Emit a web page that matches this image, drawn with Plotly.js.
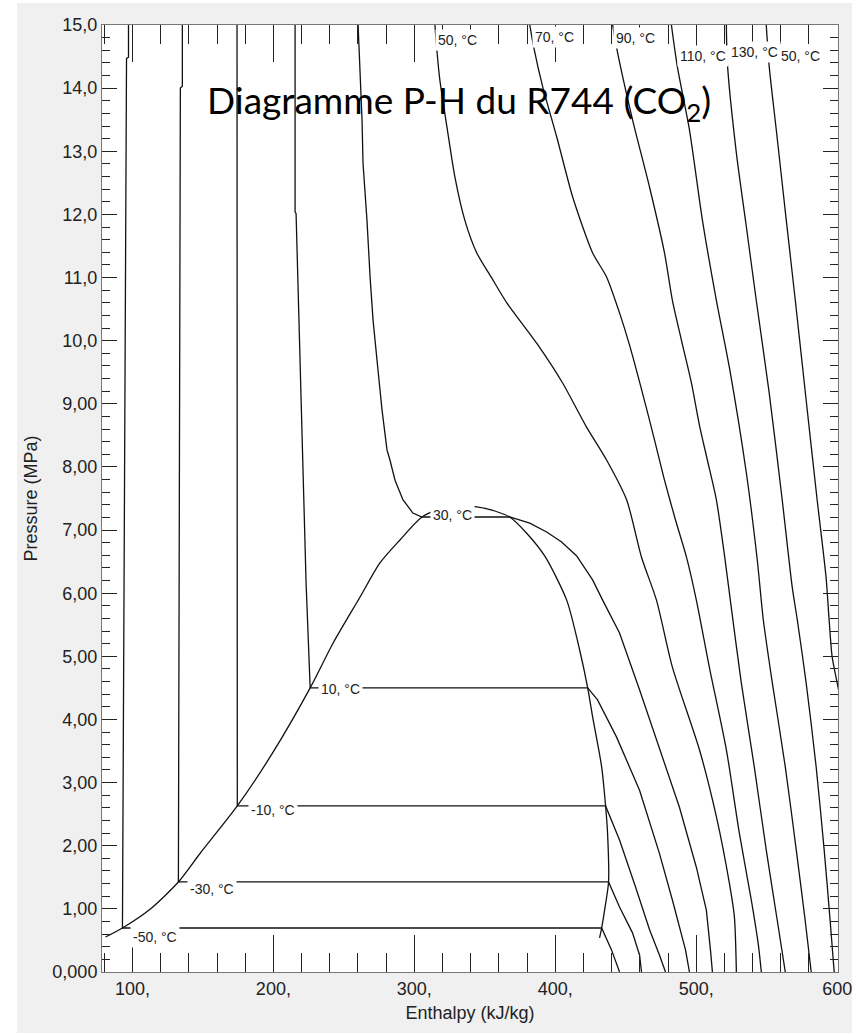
<!DOCTYPE html>
<html><head><meta charset="utf-8">
<script src="https://cdn.plot.ly/plotly-3.0.1.min.js"></script>
<style>html,body{margin:0;padding:0;background:#fff}#chart{width:858px;height:1035px}</style>
</head><body><div id="chart"></div>
<script>
// Saturation dome (liquid line then vapour line), enthalpy kJ/kg, pressure MPa
const dome_h = [80.9, 92.9, 112.7, 132.6, 148.2, 174.4, 200.0, 226.1, 242.4, 261.5, 275.6, 289.8, 305.4, 318.1, 331.6, 344.3, 357.1, 367.7, 379.7, 392.5, 408.1, 417.3, 423.0, 426.5, 432.9, 435.7, 437.1, 437.8, 435.0, 432.9, 431.4];
const dome_p = [0.554, 0.697, 0.998, 1.426, 1.885, 2.63, 3.49, 4.50, 5.211, 5.940, 6.479, 6.843, 7.207, 7.33, 7.382, 7.366, 7.302, 7.207, 6.95, 6.59, 5.89, 5.10, 4.50, 4.04, 3.25, 2.63, 2.20, 1.426, 0.98, 0.697, 0.539];

// Isotherms
const t_m50_h = [97.2, 97.2, 95.8, 92.9, 432.9, 439.9, 445.6];
const t_m50_p = [15, 14.49, 14.47, 0.697, 0.697, 0.35, 0];
const t_m30_h = [135.4, 135.4, 134.0, 132.6, 437.8, 445.6, 454.8, 459.8, 461.2];
const t_m30_p = [15, 14.03, 14.0, 1.426, 1.426, 1.03, 0.62, 0.27, 0];
const t_m10_h = [174.2, 174.4, 435.7, 445.6, 456.9, 466.9, 473.9, 478.2];
const t_m10_p = [15, 2.63, 2.63, 2.09, 1.35, 0.67, 0.27, 0];
const t_10_h = [215.4, 215.4, 216.1, 220.4, 223.2, 226.1, 423.0, 430.0, 443.5, 459.8, 473.9, 483.1, 492.4, 495.2];
const t_10_p = [15, 12.04, 12.01, 8.27, 6.16, 4.50, 4.50, 4.31, 3.72, 2.88, 1.88, 1.14, 0.35, 0];
const t_30_h = [260.1, 262.9, 263.6, 266.4, 268.6, 270.7, 274.2, 277.1, 280.6, 282.7, 286.3, 291.9, 299.0, 305.4, 367.7, 381.9, 393.9, 404.5, 415.2, 426.5, 433.6, 445.6, 459.8, 473.9, 488.1, 500.1, 507.2, 510.1, 511.5];
const t_30_p = [15, 13.5, 12.81, 11.91, 11.01, 10.33, 9.54, 8.90, 8.27, 8.11, 7.79, 7.48, 7.27, 7.207, 7.207, 7.11, 6.97, 6.81, 6.59, 6.21, 5.89, 5.37, 4.47, 3.56, 2.61, 1.66, 0.98, 0.35, 0];
const t_50_h = [314.6, 316.0, 318.1, 323.1, 328.8, 335.8, 344.3, 355.0, 365.6, 386.8, 405.2, 422.2, 436.4, 450.6, 461.2, 471.8, 483.1, 502.3, 514.3, 523.5, 527.1, 528.5];
const t_50_p = [15, 14.60, 14.13, 13.39, 12.59, 11.91, 11.39, 10.99, 10.60, 9.96, 9.33, 8.63, 8.11, 7.48, 6.57, 5.89, 4.83, 3.52, 2.46, 1.41, 0.87, 0];
const t_70_h = [381.9, 384.7, 391.1, 401.0, 412.3, 426.5, 436.4, 445.6, 452.7, 461.9, 470.4, 477.5, 485.3, 493.1, 500.1, 509.3, 521.4, 530.6, 539.1, 544.1, 546.2];
const t_70_p = [15, 14.65, 14.02, 13.23, 12.28, 11.39, 11.01, 10.44, 9.93, 9.17, 8.43, 7.79, 7.16, 6.57, 5.89, 4.83, 3.52, 2.20, 1.14, 0.43, 0];
const t_90_h = [440.7, 443.5, 454.8, 466.9, 477.5, 483.1, 489.5, 496.6, 502.3, 507.9, 514.3, 520.0, 524.2, 532.0, 541.2, 549.7, 557.5, 563.2];
const t_90_p = [15, 14.64, 13.50, 12.43, 11.39, 10.64, 10.01, 9.33, 8.66, 8.11, 7.48, 6.61, 5.89, 4.58, 3.25, 1.93, 0.82, 0];
const t_110_h = [482.4, 486.6, 495.2, 504.4, 514.3, 523.5, 535.6, 543.3, 547.6, 554.0, 563.2, 571.0, 577.3, 581.6];
const t_110_p = [15, 14.34, 13.34, 11.91, 10.64, 9.58, 7.90, 6.53, 5.58, 4.58, 3.25, 1.93, 0.82, 0];
const t_130_h = [521.4, 522.1, 528.5, 535.6, 542.6, 551.8, 561.0, 568.1, 571.7, 578.0, 585.1, 590.8, 595.0, 597.9];
const t_130_p = [15, 14.40, 12.97, 11.80, 10.64, 9.17, 7.48, 6.10, 5.58, 4.58, 3.25, 1.93, 0.82, 0];
const t_150_h = [549.7, 551.8, 556.8, 563.9, 570.3, 578.0, 585.8, 592.1, 594.3, 596.4, 600.0, 606.0];
const t_150_p = [15, 14.34, 13.34, 11.91, 10.64, 9.06, 7.48, 6.26, 5.58, 5.00, 4.58, 3.90];

// Isotherm labels (text, enthalpy and pressure of the label's left-middle point)
const labelText = ['-50, °C', '-30, °C', '-10, °C', '10, °C', '30, °C', '50, °C', '70, °C', '90, °C', '110, °C', '130, °C', '50, °C'];
const labelH = [98.6, 139.0, 182.2, 231.7, 311.0, 314.6, 383.3, 440.7, 486.7, 522.8, 558.2];
const labelP = [0.554, 1.315, 2.566, 4.483, 7.231, 14.76, 14.81, 14.80, 14.51, 14.57, 14.51];

// Tick labels
const xTickVals = [100, 200, 300, 400, 500, 600];
const xTickText = ['100,', '200,', '300,', '400,', '500,', '600'];
const yTickVals = [0, 1, 2, 3, 4, 5, 6, 7, 8, 9, 10, 11, 12, 13, 14, 15];
const yTickText = ['0,000', '1,00', '2,00', '3,00', '4,00', '5,00', '6,00', '7,00', '8,00', '9,00', '10,0', '11,0', '12,0', '13,0', '14,0', '15,0'];

// [h, p, smooth?]  (smooth curves have no sharp corners)
const curves = [
  [dome_h, dome_p, true], [t_m50_h, t_m50_p, false], [t_m30_h, t_m30_p, false], [t_m10_h, t_m10_p, false],
  [t_10_h, t_10_p, false], [t_30_h, t_30_p, false], [t_50_h, t_50_p, true], [t_70_h, t_70_p, true],
  [t_90_h, t_90_p, true], [t_110_h, t_110_p, true], [t_130_h, t_130_p, true], [t_150_h, t_150_p, true]
];
const traces = curves.map(c => ({
  x: c[0], y: c[1], type: 'scatter', mode: 'lines',
  line: c[2] ? {color: '#111', width: 1.3, shape: 'spline', smoothing: 0.7} : {color: '#111', width: 1.3},
  hoverinfo: 'skip', showlegend: false
}));

const annotations = labelText.map((t, i) => ({
  x: labelH[i], y: labelP[i], xref: 'x', yref: 'y', text: t, showarrow: false,
  xanchor: 'left', yanchor: 'middle', bgcolor: '#ffffff', borderpad: 2,
  font: {family: 'Liberation Sans, Arial, sans-serif', size: 14, color: '#222'}
}));

// white frame around the grey panel (pixel -> paper coordinates)
const px = X => (X - 102) / 736, py = Y => (972 - Y) / 947;
const strip = (x0, x1, y0, y1) => ({type: 'rect', xref: 'paper', yref: 'paper', x0: px(x0), x1: px(x1), y0: py(y1), y1: py(y0), fillcolor: '#ffffff', line: {width: 0}, layer: 'below'});
const shapes = [strip(-5, 17, -5, 1040), strip(-5, 865, -5, 3), strip(852, 865, -5, 1040), strip(-5, 865, 1033, 1040)];

const axisFont = {family: 'Liberation Sans, Arial, sans-serif', size: 18, color: '#222'};
const layout = {
  width: 858, height: 1035,
  margin: {l: 102, r: 20, t: 25, b: 63, pad: 0},
  paper_bgcolor: '#f0f0f0', plot_bgcolor: '#ffffff',
  showlegend: false, hovermode: false,
  title: {
    text: 'Diagramme P-H du R744 (CO<sub>2</sub>)',
    font: {family: 'Lato, sans-serif', size: 37, color: '#000'},
    xref: 'container', yref: 'container', x: 207 / 858, xanchor: 'left', y: 1 - 101 / 1035, yanchor: 'middle'
  },
  xaxis: {
    range: [78.4, 600.6], tickmode: 'array', tickvals: xTickVals, ticktext: xTickText,
    ticks: 'inside', ticklen: 37, tickwidth: 1, tickcolor: '#222',
    minor: {tickmode: 'linear', tick0: 0, dtick: 20, ticks: 'inside', ticklen: 19, tickwidth: 1, tickcolor: '#222', showgrid: false},
    showgrid: false, zeroline: false, showline: true, linecolor: '#777', linewidth: 1, mirror: 'ticks',
    tickfont: axisFont,
    title: {text: 'Enthalpy (kJ/kg)', font: axisFont, standoff: 8}
  },
  yaxis: {
    range: [0, 15], tickmode: 'array', tickvals: yTickVals, ticktext: yTickText,
    ticks: 'inside', ticklen: 15, tickwidth: 1, tickcolor: '#222',
    minor: {tickmode: 'linear', tick0: 0, dtick: 0.2, ticks: 'inside', ticklen: 8, tickwidth: 1, tickcolor: '#222', showgrid: false},
    showgrid: false, zeroline: false, showline: true, linecolor: '#777', linewidth: 1, mirror: 'ticks',
    tickfont: axisFont,
    title: {text: 'Pressure (MPa)', font: axisFont, standoff: 10}
  },
  annotations: annotations,
  shapes: shapes
};

Plotly.newPlot('chart', traces, layout, {staticPlot: true, displayModeBar: false});
</script>
</body></html>
